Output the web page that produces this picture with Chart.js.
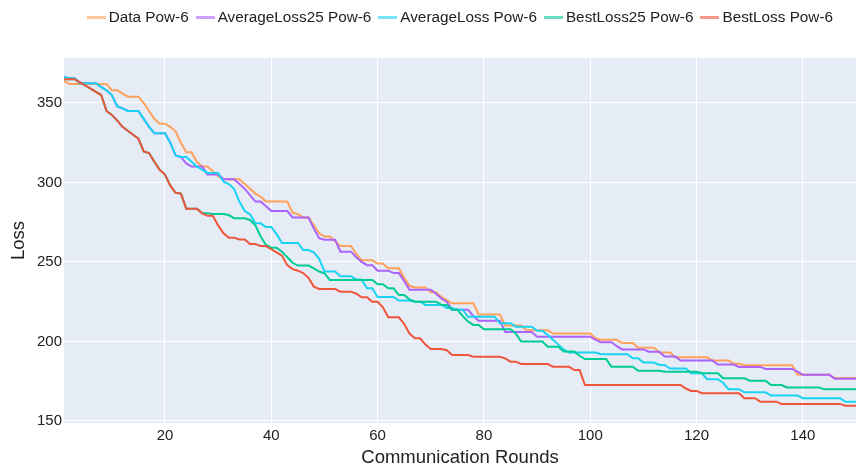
<!DOCTYPE html>
<html lang="en">
<head>
<meta charset="UTF-8">
<title>Loss per communication round</title>
<script src="https://cdn.jsdelivr.net/npm/chart.js"></script>
<style>
  body { margin: 0; background: #fff; }
  #wrap { position: relative; width: 856px; height: 472px; }
  #legend {
    position: absolute; top: 7px; right: 23px;
    display: flex; gap: 7px;
    font: 15.3px 'Liberation Sans', Arial, sans-serif; color: #222;
    line-height: 20px; white-space: nowrap;
  }
  .item { display: flex; align-items: center; }
  .swatch { width: 19px; height: 3px; margin-right: 3px; }
</style>
</head>
<body>
<div id="wrap">
  <canvas id="lossChart" width="856" height="472"></canvas>
  <div id="legend"></div>
</div>
<script>
// round numbers 1..150
const rounds = [];
for (let r = 1; r <= 150; r++) rounds.push(r);

const xTicks = [20, 40, 60, 80, 100, 120, 140];
const yTicks = [150, 200, 250, 300, 350];

const seriesNames = ['Data Pow-6', 'AverageLoss25 Pow-6', 'AverageLoss Pow-6', 'BestLoss25 Pow-6', 'BestLoss Pow-6'];
const seriesColors = ['#FFA15A', '#AB63FA', '#19D3F3', '#00CC96', '#EF553B'];

const dataPow6 = [
  364, 362, 362, 362, 362, 362, 362, 362, 362, 358,
  358, 356, 354, 354, 354, 350, 345, 340, 337, 337,
  335, 332, 325, 319, 319, 313, 310, 310, 307, 304,
  302, 302, 302, 302, 299, 296, 293, 291, 288, 288,
  288, 288, 288, 281, 280, 278, 278, 273, 268, 266,
  266, 263, 260, 260, 260, 255, 251, 251, 251, 249,
  249, 246, 246, 246, 240, 235, 234, 234, 234, 231,
  231, 228, 226, 224, 224, 224, 224, 224, 217, 217,
  217, 217, 217, 210, 210, 210, 210, 207, 207, 207,
  207, 207, 205, 205, 205, 205, 205, 205, 205, 205,
  202, 201, 201, 201, 201, 199, 199, 199, 196, 196,
  196, 196, 193, 193, 193, 190, 190, 190, 190, 190,
  190, 190, 188, 188, 188, 188, 186, 186, 185, 185,
  185, 185, 185, 185, 185, 185, 185, 185, 179, 179,
  179, 179, 179, 179, 179, 177, 177, 177, 177, 177
];

const averageLoss25Pow6 = [
  366.5, 365.5, 365.5, 362.4, 362.4, 362.4, 362.4, 360, 358, 355,
  348, 346.6, 345, 345, 345, 340, 335, 331, 331, 331,
  325, 317, 316, 312, 310, 310, 310, 305, 305, 305,
  302, 302, 302, 299, 296, 292, 288, 288, 285, 282,
  282, 282, 282, 278, 278, 278, 278, 271, 265, 264,
  264, 264, 256.5, 256.5, 256.5, 253, 250, 248, 248, 244.5,
  244.5, 244.5, 243, 243, 238, 232.5, 232.5, 232.5, 232.5, 232.5,
  230, 227, 225, 220, 220, 220, 220, 216, 213, 213,
  213, 213, 213, 206, 206, 206, 206, 206, 206, 203,
  203, 203, 203, 203, 203, 203, 203, 203, 203, 203,
  201, 199.5, 199.5, 199.5, 197, 195, 195, 195, 195, 195,
  193.5, 193.5, 193.5, 190.5, 190.5, 190.5, 188, 188, 188, 188,
  188, 188, 188, 185.5, 185.5, 185.5, 185.5, 184, 184, 184,
  184, 184, 182.7, 182.7, 182.7, 182.7, 182.7, 182.7, 181, 179,
  179, 179, 179, 179, 179, 176.5, 176.5, 176.5, 176.5, 176.5
];

const averageLossPow6 = [
  366.5, 365.5, 365.5, 362.4, 362.4, 362.4, 362.4, 360, 358, 355,
  348, 346.6, 345, 345, 345, 340, 335, 331, 331, 331,
  325, 317, 316, 316, 313, 310, 308, 306, 306, 306,
  300.5, 299, 296, 288, 282, 280, 274.3, 274.3, 272, 272,
  267.5, 262, 262, 262, 262, 257.5, 257.5, 256, 252, 244,
  244, 244, 241, 241, 241, 239, 239, 233.5, 233.5, 228,
  228, 228, 228, 225.7, 225.7, 225.7, 225, 225, 223, 223,
  223, 223, 221, 221, 220, 220, 215.6, 215.6, 215.6, 215.6,
  215.6, 215.6, 211.4, 211.4, 211.4, 209.3, 209.3, 209.3, 209.3, 206.8,
  206.8, 204, 201, 198, 195, 193, 193, 193, 193, 193,
  193, 192, 192, 192, 192, 192, 192, 189.4, 189.4, 186.7,
  186.7, 186.7, 185.2, 185.2, 183, 183, 183, 183, 180, 180,
  180, 176.2, 176.2, 176.2, 174, 170, 170, 170, 168, 168,
  168, 168, 168, 166, 166, 166, 166, 166, 166, 164.3,
  164.3, 164.3, 164.3, 164.3, 164.3, 164.3, 164.3, 162, 162, 162
];

const bestLoss25Pow6 = [
  365, 365, 365, 363, 361, 359, 357, 355, 345, 342.5,
  339, 335, 332.5, 330, 327.5, 319.5, 318.5, 313, 308, 305,
  298, 293.5, 293, 283.5, 283.5, 283.5, 280.6, 280.6, 280.2, 280.2,
  280.2, 279.5, 277.5, 277.5, 277.5, 276.4, 273, 266, 260.7, 259,
  259, 256.5, 253, 249.5, 247.7, 247.7, 247.7, 246, 244, 242.9,
  238.7, 238.7, 238.7, 238.7, 238.7, 238.7, 238.7, 238.7, 238.7, 236,
  236, 233.5, 233.5, 229.2, 229.2, 226.5, 225, 225, 225, 225,
  225, 223, 223, 220, 220, 216, 212.5, 210.4, 210.4, 207.7,
  207.7, 207.7, 207.7, 207.7, 207.7, 205, 200, 200, 200, 200,
  200, 196.7, 196.7, 196.7, 193.6, 193.6, 193.6, 191, 188.9, 188.9,
  188.9, 188.9, 188.9, 184.1, 184.1, 184.1, 184.1, 184.1, 181.6, 181.6,
  181.6, 181.6, 181.6, 181, 181, 181, 181, 181, 181, 181,
  180, 180, 180, 180, 176.8, 176.8, 176.8, 176.8, 176.8, 175.3,
  175.3, 175.3, 175.3, 172.6, 172.6, 172.6, 171.1, 171.1, 171.1, 171.1,
  171.1, 171.1, 171.1, 169.9, 169.9, 169.9, 169.9, 169.9, 169.9, 169.9
];

const bestLossPow6 = [
  365, 365, 365, 363, 361, 359, 357, 355, 345, 342.5,
  339, 335, 332.5, 330, 327.5, 319.5, 318.5, 313, 308, 305,
  298, 293.5, 293, 283.5, 283.5, 283.5, 280.6, 279, 279, 273,
  268, 265.3, 265.3, 264.2, 264.2, 261.3, 261.3, 260, 260, 258,
  256, 254, 248, 245.5, 244.5, 243, 240, 234.5, 233, 233,
  233, 233, 231.3, 231.3, 231.3, 230, 227.8, 227.8, 225, 225,
  221.5, 215.2, 215.2, 215.2, 211, 205, 202, 202, 198, 195.3,
  195.3, 195.3, 194.5, 191.5, 191.5, 191.5, 191.5, 190.4, 190.4, 190.4,
  190.4, 190.4, 190.4, 189.4, 187.3, 187.3, 185.8, 185.8, 185.8, 185.8,
  185.8, 185.8, 184.1, 184.1, 184.1, 184.1, 182, 182, 172.6, 172.6,
  172.6, 172.6, 172.6, 172.6, 172.6, 172.6, 172.6, 172.6, 172.6, 172.6,
  172.6, 172.6, 172.6, 172.6, 172.6, 172.6, 172.6, 170.4, 168.9, 168.9,
  167.4, 167.4, 167.4, 167.4, 167.4, 167.4, 167.4, 167.4, 164.3, 164.3,
  164.3, 162.1, 162.1, 162.1, 162.1, 160.7, 160.7, 160.7, 160.7, 160.7,
  160.7, 160.7, 160.7, 160.7, 160.7, 160.7, 160.7, 159.6, 159.6, 159.6
];

const allSeries = [dataPow6, averageLoss25Pow6, averageLossPow6, bestLoss25Pow6, bestLossPow6];

// plot background like the plotly template
const plotBackground = {
  id: 'plotBackground',
  beforeDraw(chart) {
    const { ctx, chartArea: a } = chart;
    ctx.save();
    ctx.fillStyle = '#E5ECF6';
    ctx.fillRect(a.left, a.top, a.right - a.left, a.bottom - a.top);
    ctx.restore();
  }
};

Chart.defaults.font.family = "'Liberation Sans', Arial, sans-serif";

const datasets = allSeries.map((vals, i) => ({
  label: seriesNames[i],
  data: vals.map((v, j) => ({ x: rounds[j], y: v })),
  borderColor: seriesColors[i],
  backgroundColor: seriesColors[i],
  borderWidth: 2,
  pointRadius: 0,
  tension: 0,
  fill: false,
  order: allSeries.length - i   // later traces on top
}));

new Chart(document.getElementById('lossChart'), {
  type: 'line',
  data: { datasets },
  options: {
    responsive: false,
    animation: false,
    devicePixelRatio: 1,
    layout: { padding: { top: 58, right: 0, bottom: 0, left: 0 } },
    plugins: { legend: { display: false }, tooltip: { enabled: false } },
    scales: {
      x: {
        type: 'linear', min: 1, max: 150,
        afterBuildTicks: s => { s.ticks = xTicks.map(v => ({ value: v })); },
        afterFit: s => { s.height = 49; },
        grid: { color: '#ffffff', lineWidth: 1, drawTicks: false },
        border: { display: false },
        ticks: { padding: 4, color: '#222', font: { size: 15 }, maxRotation: 0 },
        title: { display: true, text: 'Communication Rounds', color: '#222',
                 font: { size: 18.5 }, padding: { top: 0, bottom: 3 } }
      },
      y: {
        min: 148.7, max: 378.3,
        afterBuildTicks: s => { s.ticks = yTicks.map(v => ({ value: v })); },
        afterFit: s => { s.width = 64; },
        grid: { color: '#ffffff', lineWidth: 1, drawTicks: false },
        border: { display: false },
        ticks: { padding: 2, color: '#222', font: { size: 15 } },
        title: { display: true, text: 'Loss', color: '#222',
                 font: { size: 18.5 }, padding: { top: 8, bottom: 0 } }
      }
    }
  },
  plugins: [plotBackground]
});

// horizontal legend above the plot
const legend = document.getElementById('legend');
seriesNames.forEach((name, i) => {
  const item = document.createElement('div');
  item.className = 'item';
  const sw = document.createElement('span');
  sw.className = 'swatch';
  sw.style.background = seriesColors[i];
  sw.style.opacity = 0.6;
  const txt = document.createElement('span');
  txt.textContent = name;
  item.appendChild(sw);
  item.appendChild(txt);
  legend.appendChild(item);
});
</script>
</body>
</html>
